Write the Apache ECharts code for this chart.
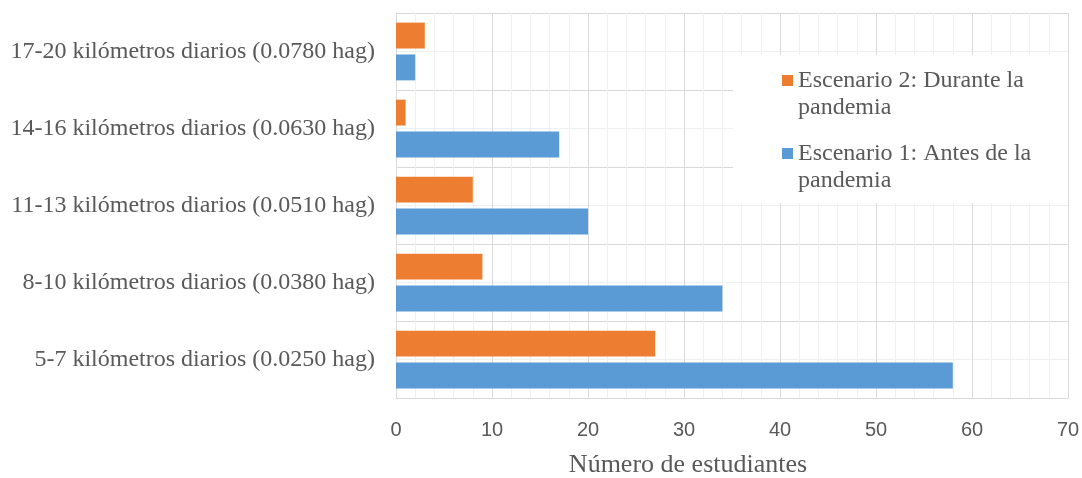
<!DOCTYPE html>
<html>
<head>
<meta charset="utf-8">
<script src="https://cdn.jsdelivr.net/npm/echarts@6/dist/echarts.min.js"></script>
<style>
  html, body { margin: 0; padding: 0; background: #fff; }
  #chart { width: 1082px; height: 478px; }
</style>
</head>
<body>
<div id="chart"></div>
<script>
// Distance bands (bottom to top on the category axis)
const categories = [
  '5-7 kilómetros diarios (0.0250 hag)',
  '8-10 kilómetros diarios (0.0380 hag)',
  '11-13 kilómetros diarios (0.0510 hag)',
  '14-16 kilómetros diarios (0.0630 hag)',
  '17-20 kilómetros diarios (0.0780 hag)'
];
const seriesNames = [
  'Escenario 2: Durante la pandemia',
  'Escenario 1: Antes de la pandemia'
];
const duranteValues = [27, 9, 8, 1, 3];
const antesValues = [58, 34, 20, 17, 2];
const xTicks = [0, 70, 10]; // min, max, interval
const axisTitle = 'Número de estudiantes';

const chart = echarts.init(document.getElementById('chart'));

const serif = "'Liberation Serif', 'Times New Roman', serif";
const sans = "'Liberation Sans', Arial, sans-serif";
const textColor = '#595959';

chart.setOption({
  animation: false,
  backgroundColor: '#ffffff',
  grid: {
    left: 396, right: 14, top: 13, bottom: 80,
    outerBoundsMode: 'none'
  },
  graphic: [{
    type: 'rect',
    z: 1,
    silent: true,
    shape: { x: 733, y: 55, width: 335, height: 148 },
    style: { fill: '#ffffff' }
  }],
  legend: {
    data: seriesNames,
    orient: 'vertical',
    left: 782,
    top: 40,
    padding: 0,
    itemGap: -8,
    itemWidth: 11,
    itemHeight: 11,
    icon: 'rect',
    // leading blank line keeps the marker level with the first text line
    formatter: (name) => '\n' + name.replace(' pandemia', '\npandemia'),
    textStyle: {
      fontFamily: serif,
      fontSize: 24,
      lineHeight: 27,
      color: textColor
    }
  },
  xAxis: {
    type: 'value',
    min: xTicks[0],
    max: xTicks[1],
    interval: xTicks[2],
    name: axisTitle,
    nameLocation: 'middle',
    nameGap: 54,
    nameTextStyle: {
      fontFamily: serif,
      fontSize: 26,
      color: textColor,
      padding: [0, 88, 0, 0]
    },
    axisLine: { show: false },
    axisTick: { show: false },
    minorTick: { show: false, splitNumber: 5 },
    axisLabel: {
      fontFamily: sans,
      fontSize: 20,
      color: textColor,
      margin: 22
    },
    splitLine: { show: true, lineStyle: { color: '#d9d9d9', width: 1 } },
    minorSplitLine: { show: true, lineStyle: { color: '#f0f0f0', width: 1 } }
  },
  yAxis: [{
    type: 'category',
    data: categories,
    axisLine: { show: true, lineStyle: { color: '#d9d9d9', width: 1 } },
    axisTick: { show: false },
    splitLine: { show: false },
    axisLabel: {
      fontFamily: serif,
      fontSize: 24,
      color: textColor,
      margin: 21
    }
  }, {
    // gridlines at category boundaries (darker) and category centres (lighter)
    type: 'value',
    min: 0,
    max: categories.length * 2,
    interval: 1,
    position: 'left',
    axisLine: { show: false },
    axisTick: { show: false },
    axisLabel: { show: false },
    splitLine: { show: true, lineStyle: { color: ['#d9d9d9', '#f0f0f0'], width: 1 } }
  }],
  series: [{
    name: seriesNames[0],
    type: 'bar',
    yAxisIndex: 0,
    data: duranteValues,
    itemStyle: { color: '#ED7D31' },
    barGap: '23%',
    barCategoryGap: '25%'
  }, {
    name: seriesNames[1],
    type: 'bar',
    yAxisIndex: 0,
    data: antesValues,
    itemStyle: { color: '#5B9BD5' },
    barGap: '23%',
    barCategoryGap: '25%'
  }]
});
</script>
</body>
</html>
